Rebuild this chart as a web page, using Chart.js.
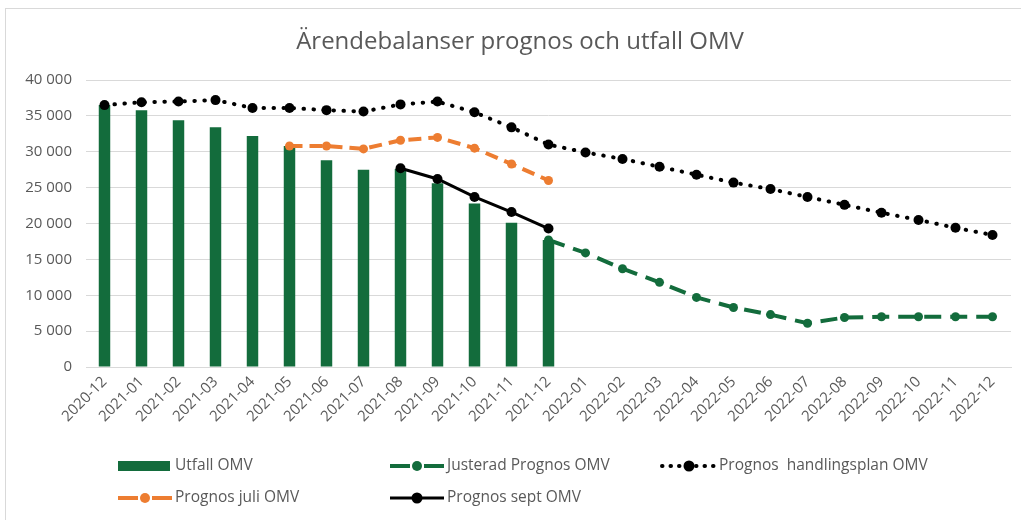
<!DOCTYPE html>
<html>
<head>
<meta charset="utf-8">
<script src="https://cdn.jsdelivr.net/npm/chart.js@4.4.1/dist/chart.umd.min.js"></script>
<style>
  html, body { margin: 0; padding: 0; background: #fff; }
  #frame { position: absolute; left: 5px; top: 8px; width: 1016px; height: 512px;
           border-left: 1px solid #d9d9d9; border-top: 1px solid #d9d9d9; }
  #myChart { position: absolute; left: 0; top: 0; }
</style>
</head>
<body>
<div id="frame"><canvas id="myChart" width="1015" height="511"></canvas></div>
<script>
const months = ['2020-12', '2021-01', '2021-02', '2021-03', '2021-04', '2021-05', '2021-06',
  '2021-07', '2021-08', '2021-09', '2021-10', '2021-11', '2021-12', '2022-01', '2022-02',
  '2022-03', '2022-04', '2022-05', '2022-06', '2022-07', '2022-08', '2022-09', '2022-10',
  '2022-11', '2022-12']

const utfall = [36500, 35800, 34400, 33400, 32200, 30800, 28800, 27500, 27600, 25600, 22800, 20100, 17700,
  null, null, null, null, null, null, null, null, null, null, null, null]

const justerad = [null, null, null, null, null, null, null, null, null, null, null, null, 17700,
  15900, 13700, 11800, 9700, 8300, 7300, 6100, 6900, 7000, 7000, 7000, 7000]

const handlingsplan = [36500, 36900, 37000, 37200, 36100, 36100, 35800, 35600, 36600, 37000, 35500, 33400, 31000,
  29900, 29000, 27900, 26800, 25700, 24800, 23700, 22600, 21500, 20500, 19400, 18400]

const juli = [null, null, null, null, null, 30800, 30800, 30400, 31600, 32000, 30500, 28300, 26000,
  null, null, null, null, null, null, null, null, null, null, null, null]

const sept = [null, null, null, null, null, null, null, null, 27700, 26200, 23700, 21600, 19300,
  null, null, null, null, null, null, null, null, null, null, null, null]

const yTicks = [0, 5000, 10000, 15000, 20000, 25000, 30000, 35000, 40000]

const green = '#136c3c'
const orange = '#ed7d31'
const grey = '#595959'
const font = '"Open Sans", sans-serif'

const fmt = v => String(v).replace(/\B(?=(\d{3})+(?!\d))/g, ' ')

// legend grid: [dataset index, column, row]
const legendSlots = [[0, 0, 0], [1, 1, 0], [2, 2, 0], [3, 0, 1], [4, 1, 1]]

const titleAndLegend = {
  id: 'titleAndLegend',
  afterDraw(chart) {
    const ctx = chart.ctx
    ctx.save()
    ctx.fillStyle = grey
    ctx.font = '24px ' + font
    ctx.textAlign = 'center'
    ctx.textBaseline = 'middle'
    ctx.fillText('Ärendebalanser prognos och utfall OMV', 514, 33)

    ctx.font = '15.5px ' + font
    ctx.textAlign = 'left'
    legendSlots.forEach(([i, col, row]) => {
      const ds = chart.data.datasets[i]
      const x = 112 + col * 272
      const y = 457 + row * 32
      ctx.save()
      if (ds.type === 'bar') {
        ctx.fillStyle = ds.backgroundColor
        ctx.fillRect(x, y - 5, 52, 10)
      } else {
        ctx.strokeStyle = ds.borderColor
        ctx.lineWidth = ds.borderWidth
        ctx.lineCap = ds.borderCapStyle || 'butt'
        ctx.setLineDash(ds.legendDash || [])
        ctx.beginPath()
        ctx.moveTo(x, y)
        ctx.lineTo(x + 54, y)
        ctx.stroke()
        ctx.fillStyle = ds.pointBackgroundColor
        ctx.beginPath()
        ctx.arc(x + 27, y, ds.pointRadius + 0.5, 0, Math.PI * 2)
        ctx.fill()
      }
      ctx.restore()
      ctx.fillText(ds.label, x + 57, y)
    })
    ctx.restore()
  }
}

const chart = new Chart(document.getElementById('myChart'), {
  data: {
    labels: months,
    datasets: [{
      type: 'bar',
      label: 'Utfall OMV',
      data: utfall,
      backgroundColor: green,
      barPercentage: 0.31,
      categoryPercentage: 1,
      order: 10
    }, {
      type: 'line',
      label: 'Justerad Prognos OMV',
      data: justerad,
      borderColor: green,
      borderWidth: 4,
      borderDash: [17, 9],
      legendDash: [20, 14],
      pointRadius: 4.5,
      pointBorderWidth: 0,
      pointBackgroundColor: green,
      pointBorderColor: green,
      order: 4
    }, {
      type: 'line',
      label: 'Prognos  handlingsplan OMV',
      data: handlingsplan,
      borderColor: '#000',
      borderWidth: 4,
      borderCapStyle: 'round',
      borderDash: [0.5, 9.5],
      legendDash: [0.5, 8],
      pointRadius: 5,
      pointBorderWidth: 0,
      pointBackgroundColor: '#000',
      pointBorderColor: '#000',
      order: 3
    }, {
      type: 'line',
      label: 'Prognos juli OMV',
      data: juli,
      borderColor: orange,
      borderWidth: 4,
      borderDash: [13, 7],
      legendDash: [20, 14],
      pointRadius: 4.5,
      pointBorderWidth: 0,
      pointBackgroundColor: orange,
      pointBorderColor: orange,
      order: 2
    }, {
      type: 'line',
      label: 'Prognos sept OMV',
      data: sept,
      borderColor: '#000',
      borderWidth: 3,
      pointRadius: 5,
      pointBorderWidth: 0,
      pointBackgroundColor: '#000',
      pointBorderColor: '#000',
      order: 1
    }]
  },
  options: {
    responsive: false,
    devicePixelRatio: 1,
    animation: false,
    layout: { padding: { top: 71, right: 10, bottom: 73, left: 0 } },
    plugins: {
      legend: { display: false },
      title: { display: false },
      tooltip: { enabled: false }
    },
    scales: {
      x: {
        afterFit: scale => { scale.height = 80 },
        grid: { display: false, drawTicks: false },
        border: { color: '#d9d9d9' },
        ticks: {
          color: grey,
          font: { family: font, size: 15 },
          minRotation: 45,
          maxRotation: 45,
          autoSkip: false,
          padding: 6
        }
      },
      y: {
        min: 0,
        max: 40000,
        afterFit: scale => { scale.width = 80 },
        afterBuildTicks: scale => { scale.ticks = yTicks.map(v => ({ value: v })) },
        grid: { color: '#d9d9d9', drawTicks: false },
        border: { display: false },
        ticks: {
          color: grey,
          font: { family: font, size: 15 },
          padding: 14,
          callback: v => fmt(v)
        }
      }
    }
  },
  plugins: [titleAndLegend]
})
</script>
</body>
</html>
